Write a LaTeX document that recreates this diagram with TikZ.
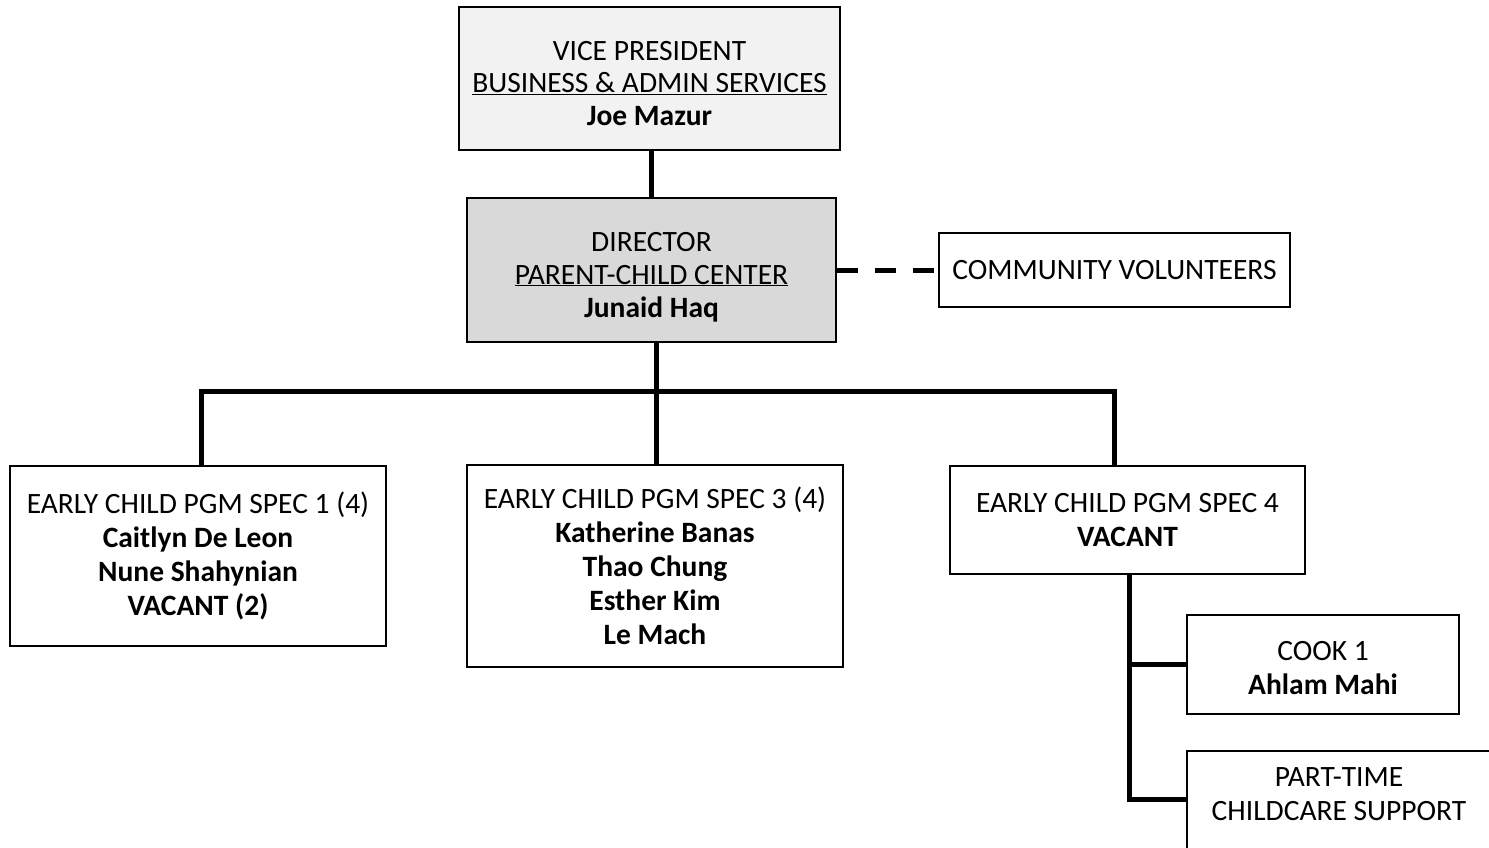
\documentclass[tikz,border=0pt]{standalone}
\usepackage{fontspec}
\setmainfont{Carlito}
\usepackage{tikz}

\definecolor{vpgray}{HTML}{F2F2F2}
\definecolor{dirgray}{HTML}{D9D9D9}

\tikzset{
  box/.style={draw=black, line width=1.8pt, align=center, inner sep=0pt,
    font=\fontsize{29.5}{34}\selectfont},
  tight/.style={font=\fontsize{29.5}{33}\selectfont},
  link/.style={line width=5pt},
  dlink/.style={line width=5pt, dash pattern=on 21pt off 17pt},
}

\begin{document}
\begin{tikzpicture}[x=1pt,y=-1pt]
  \useasboundingbox (0,0) rectangle (1489,848);
  \clip (0,0) rectangle (1489,848);

  % top of the chart
  \node[box, tight, fill=vpgray, minimum width=381, minimum height=143,
    text height=95pt, text depth=0pt] (vp) at (649.5,78.5)
    {VICE PRESIDENT\\\underline{BUSINESS \& ADMIN SERVICES}\\\textbf{Joe Mazur}};
  \node[box, tight, fill=dirgray, minimum width=369, minimum height=144,
    text height=94pt, text depth=0pt] (dir) at (651.5,270)
    {DIRECTOR\\\underline{PARENT-CHILD CENTER}\\\textbf{Junaid Haq}};
  \node[box, fill=white, minimum width=351, minimum height=74] (vol) at (1114.5,270)
    {COMMUNITY VOLUNTEERS};

  % program specialists
  \node[box, minimum width=376, minimum height=180] (spec1) at (198,556)
    {EARLY CHILD PGM SPEC 1 (4)\\\textbf{Caitlyn De Leon}\\\textbf{Nune Shahynian}\\\textbf{VACANT (2)}};
  \node[box, minimum width=376, minimum height=202] (spec3) at (655,566)
    {EARLY CHILD PGM SPEC 3 (4)\\\textbf{Katherine Banas}\\\textbf{Thao Chung}\\\textbf{Esther Kim}\\\textbf{Le Mach}};
  \node[box, minimum width=355, minimum height=108] (spec4) at (1127.5,520)
    {EARLY CHILD PGM SPEC 4\\\textbf{VACANT}};

  % support staff
  \node[box, minimum width=272, minimum height=99,
    text height=59pt, text depth=0pt] (cook) at (1323,664.5)
    {COOK 1\\\textbf{Ahlam Mahi}};
  \node[box, minimum width=304, minimum height=109, text depth=23pt] (care) at (1339,805.5)
    {PART-TIME\\CHILDCARE SUPPORT};

  \coordinate (busl) at (201.5,391.5);
  \coordinate (busr) at (1114.5,391.5);
  \coordinate (sub) at (1129.5,0);

  \draw[link] (dir.north) -- (dir.north |- vp.south);
  \draw[dlink] (dir.east) -- (vol.west);
  \draw[link] (spec3.north -| 656,0) -- (dir.south -| 656,0);
  \draw[link] (spec1.north -| busl) -- (busl) -- (busr) -- (spec4.north -| busr);
  \draw[link] (spec4.south -| sub) -- ([yshift=6pt]care.west -| sub) -- ([yshift=6pt]care.west);
  \draw[link] (cook.west -| sub) -- (cook.west);
\end{tikzpicture}
\end{document}
